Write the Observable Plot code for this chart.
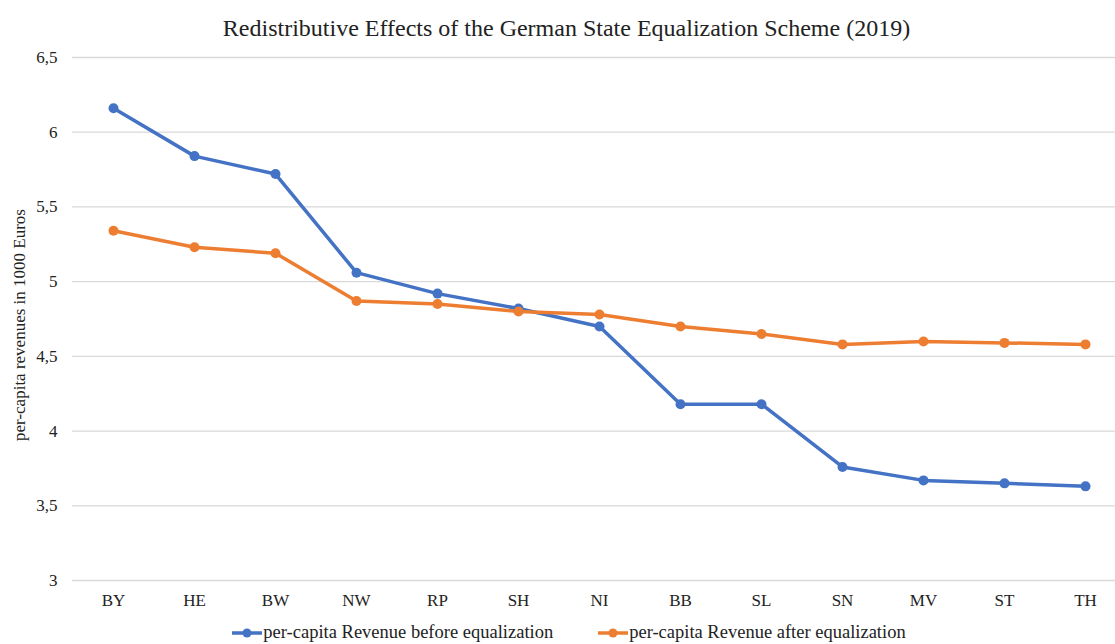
<!DOCTYPE html>
<html>
<head>
<meta charset="utf-8">
<script src="https://cdn.jsdelivr.net/npm/d3@7"></script>
<script src="https://cdn.jsdelivr.net/npm/@observablehq/plot@0.6"></script>
<style>
  body { margin: 0; background: #fff; font-family: "Liberation Serif", "Times New Roman", serif; }
  #title { height: 45px; line-height: 56px; text-align: center; font-size: 24px; color: #222; padding-left: 18px; }
  #legend { display: flex; justify-content: center; gap: 44px; font-size: 18.5px; color: #222; margin-top: 2px; padding-left: 22px; white-space: nowrap; }
  #legend span { display: inline-flex; align-items: center; }
</style>
</head>
<body>
<div id="title">Redistributive Effects of the German State Equalization Scheme (2019)</div>
<div id="chart"></div>
<div id="legend"></div>
<script>
const states = ["BY","HE","BW","NW","RP","SH","NI","BB","SL","SN","MV","ST","TH"];
const before = [6.16, 5.84, 5.72, 5.06, 4.92, 4.82, 4.70, 4.18, 4.18, 3.76, 3.67, 3.65, 3.63];
const after  = [5.34, 5.23, 5.19, 4.87, 4.85, 4.80, 4.78, 4.70, 4.65, 4.58, 4.60, 4.59, 4.58];
const seriesNames = ["per-capita Revenue before equalization", "per-capita Revenue after equalization"];
const colors = ["#4472C4", "#ED7D31"];
const yTicks = [3, 3.5, 4, 4.5, 5, 5.5, 6, 6.5];

const data = [];
states.forEach((s, i) => {
  data.push({state: s, value: before[i], series: seriesNames[0]});
  data.push({state: s, value: after[i], series: seriesNames[1]});
});
const fmt = d => String(d).replace(".", ",");

const chart = Plot.plot({
  width: 1115,
  height: 575,
  marginLeft: 72,
  marginRight: 0,
  marginTop: 12,
  marginBottom: 40,
  style: {fontFamily: '"Liberation Serif", "Times New Roman", serif', fontSize: "17px", color: "#222", background: "#fff"},
  x: {type: "point", domain: states, range: [113, 1085], padding: 0, label: null, tickSize: 0, tickPadding: 13},
  y: {domain: [3, 6.5], ticks: yTicks, tickFormat: fmt, tickSize: 0, tickPadding: 15,
      label: "per-capita revenues in 1000 Euros", labelAnchor: "center", labelArrow: "none", labelOffset: 60},
  color: {domain: seriesNames, range: colors},
  marks: [
    Plot.ruleY(yTicks, {stroke: "#d9d9d9", strokeWidth: 1.3}),
    Plot.line(data, {x: "state", y: "value", z: "series", stroke: "series", strokeWidth: 3.5, strokeLinejoin: "round", strokeLinecap: "round"}),
    Plot.dot(data, {x: "state", y: "value", fill: "series", r: 5})
  ]
});
chart.querySelectorAll('g[aria-label="y-axis label"]').forEach(el => {
  el.style.fontSize = "17px";
  el.setAttribute("transform", (el.getAttribute("transform") || "") + " translate(0,6)");
});
document.getElementById("chart").appendChild(chart);

const legend = document.getElementById("legend");
seriesNames.forEach((n, i) => {
  const sp = document.createElement("span");
  sp.innerHTML = `<svg width="32" height="12"><line x1="1" y1="6" x2="31" y2="6" stroke="${colors[i]}" stroke-width="3.5"/><circle cx="16" cy="6" r="4.5" fill="${colors[i]}"/></svg>${n}`;
  legend.appendChild(sp);
});
</script>
</body>
</html>
